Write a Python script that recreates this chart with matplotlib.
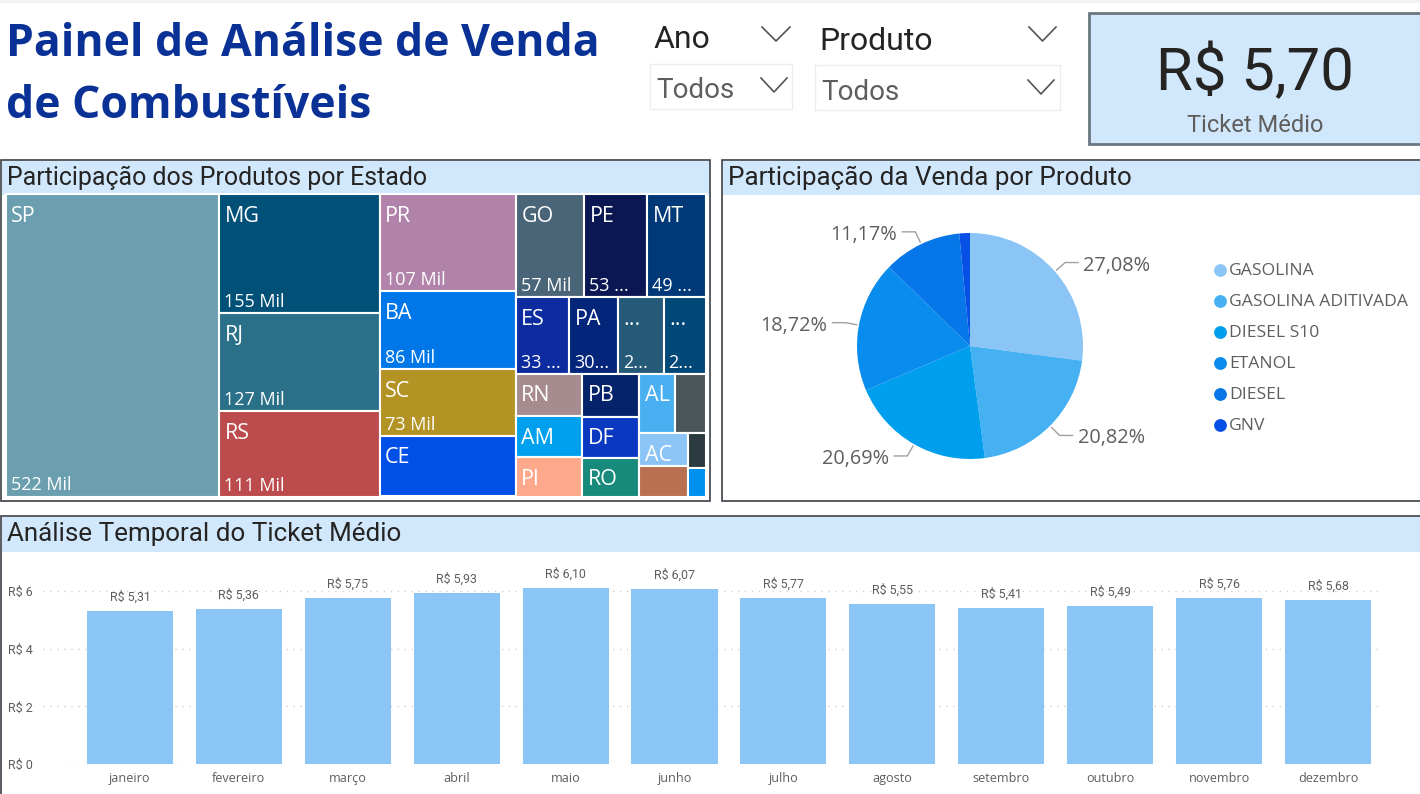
import math
import matplotlib
matplotlib.use("Agg")
import matplotlib.pyplot as plt
from matplotlib.patches import Rectangle

# dados
meses = ['janeiro', 'fevereiro', 'março', 'abril', 'maio', 'junho', 'julho',
         'agosto', 'setembro', 'outubro', 'novembro', 'dezembro']
ticket = [5.31, 5.36, 5.75, 5.93, 6.10, 6.07, 5.77, 5.55, 5.41, 5.49, 5.76, 5.68]

produtos = ['GASOLINA', 'GASOLINA ADITIVADA', 'DIESEL S10', 'ETANOL', 'DIESEL', 'GNV']
participacao = [27.08, 20.82, 20.69, 18.72, 11.17, 1.52]
cores_pie = ['#8AC5F6', '#45B0F2', '#009FEE', '#088CEE', '#0676E8', '#0650E6']

estados = ['SP', 'MG', 'RJ', 'RS', 'PR', 'BA', 'SC', 'CE', 'GO', 'PE', 'MT', 'ES', 'PA',
           '...', '...', 'RN', 'AM', 'PI', 'PB', 'DF', 'RO', 'AL', '', 'AC', '', '', '']
vendas = [522, 155, 127, 111, 107, 86, 73, 67, 57, 53, 49, 33, 30, 28, 26,
          23, 22, 21, 20, 19, 18, 17, 15, 13, 12, 5, 4]
rotulos = ['522 Mil', '155 Mil', '127 Mil', '111 Mil', '107 Mil', '86 Mil', '73 Mil', '',
           '57 Mil', '53 ...', '49 ...', '33 ...', '30...', '2...', '2...',
           '', '', '', '', '', '', '', '', '', '', '', '']
cores_tree = ['#6B9FB0', '#005078', '#2A7088', '#BC4B4D', '#B283AA', '#0077E8', '#B39324',
              '#0050E8', '#4A6478', '#0A1752', '#003878', '#0C2CA0', '#03267A', '#255A78',
              '#004878', '#A68C8E', '#00A0EE', '#FFA98C', '#04236A', '#0A38C0', '#178A7C',
              '#48B0F0', '#4C5558', '#8CC5F5', '#B87050', '#2B3A3E', '#0090EE']

# agrupamento do treemap (indices em vendas), alterna coluna/linha a cada nivel
grupos = [0, [1, 2, 3], [4, 5, 6, 7],
          [[8, 9, 10], [11, 12, 13, 14],
           [[15, 16, 17], [18, 19, 20], [[21, 22], [[23, 24], [25, 26]]]]]]

FONTE = 'Roboto'
AZUL_CLARO = '#D0E7FC'
plt.rcParams['font.family'] = ['Open Sans', 'DejaVu Sans']

fig = plt.figure(figsize=(14.2, 7.94), dpi=100, facecolor='white')

# eixo de fundo em pixels, para os paineis
bg = fig.add_axes([0, 0, 1, 1])
bg.set_xlim(0, 1420)
bg.set_ylim(794, 0)
bg.axis('off')


def eixo_px(x0, y0, x1, y1):
    return fig.add_axes([x0 / 1420, 1 - y1 / 794, (x1 - x0) / 1420, (y1 - y0) / 794])


def painel(x0, y0, x1, y1, titulo, y_header, tam):
    bg.add_patch(Rectangle((x0, y0), x1 - x0, y1 - y0, fc='white', ec='#3C4146', lw=1.2))
    bg.add_patch(Rectangle((x0 + 1, y0 + 1), x1 - x0 - 2, y_header - y0 - 1, fc=AZUL_CLARO, ec='none'))
    bg.text(x0 + 6.5, (y0 + y_header) / 2 + 0.5, titulo, fontsize=tam, family=FONTE, color='#252423',
            va='center', ha='left')


def chevron(x0, x1, y0, y1):
    bg.plot([x0, (x0 + x1) / 2, x1], [y0, y1, y0], color='#555555', lw=1.2)


bg.add_patch(Rectangle((0, 0), 1420, 3, fc='#F2F2F2', ec='none'))

# titulo principal
bg.text(6, 44, 'Painel de Análise de Venda', fontsize=32, fontweight='bold', color='#0A3296', va='center')
bg.text(6, 106, 'de Combustíveis', fontsize=32, fontweight='bold', color='#0A3296', va='center')

# filtros
bg.text(654, 40, 'Ano', fontsize=23, family=FONTE, color='#252423', va='center')
bg.text(819, 41, 'Produto', fontsize=23, family=FONTE, color='#252423', va='center')
chevron(762, 790, 27, 41)
chevron(1029, 1056, 27, 41)
bg.add_patch(Rectangle((650, 64), 142, 45, fc='white', ec='#EDEDED', lw=1))
bg.add_patch(Rectangle((815, 65), 245, 45, fc='white', ec='#EDEDED', lw=1))
bg.text(656, 91, 'Todos', fontsize=20, family=FONTE, color='#605E5C', va='center')
bg.text(821, 93, 'Todos', fontsize=20, family=FONTE, color='#605E5C', va='center')
chevron(761, 787, 78, 92)
chevron(1028, 1054, 80, 94)

# cartao
bg.add_patch(Rectangle((1088.5, 12.5), 340, 131, fc=AZUL_CLARO, ec='#6B7780', lw=2))
bg.text(1255, 73, 'R$ 5,70', fontsize=43, family=FONTE, color='#252423', ha='center', va='center')
bg.text(1255, 126, 'Ticket Médio', fontsize=17, family=FONTE, color='#605E5C', ha='center', va='center')

painel(0.5, 159.5, 709.5, 501, 'Participação dos Produtos por Estado', 195, 17.9)
painel(721.5, 159.5, 1425, 501, 'Participação da Venda por Produto', 195, 18.7)
painel(0.5, 515.5, 1425, 800, 'Análise Temporal do Ticket Médio', 552, 18.7)


# treemap
def soma(g):
    return vendas[g] if isinstance(g, int) else sum(soma(i) for i in g)


def desenha_tree(g, x, y, w, h, vertical):
    if isinstance(g, int):
        bg.add_patch(Rectangle((x, y), w, h, fc=cores_tree[g], ec='white', lw=1.5))
        bg.text(x + 5.5, y + 22, estados[g], fontsize=15.5, color='white', va='center')
        if rotulos[g]:
            bg.text(x + 5, y + h - 11, rotulos[g], fontsize=13, color='white', va='center')
        return
    total = soma(g)
    for item in g:
        frac = soma(item) / total
        if vertical:
            desenha_tree(item, x, y, w, h * frac, False)
            y += h * frac
        else:
            desenha_tree(item, x, y, w * frac, h, True)
            x += w * frac


desenha_tree(grupos, 5.8, 194, 700, 302.5, False)

# pizza
ax_pie = eixo_px(970 - 170, 346 - 170, 970 + 170, 346 + 170)
ax_pie.pie(participacao, colors=cores_pie, startangle=90, counterclock=False, radius=113 / 150,
           wedgeprops={'linewidth': 0})
ax_pie.set_xlim(-170 / 150, 170 / 150)
ax_pie.set_ylim(-170 / 150, 170 / 150)

acum = 0
for valor in participacao:
    meio = acum + valor / 2
    acum += valor
    if valor < 5:
        continue
    ang = math.radians(meio * 3.6)
    sx, sy = math.sin(ang), math.cos(ang)
    r = 113 / 150
    lado = 1 if sx > 0 else -1
    px = [sx * r * 1.02, sx * r * 1.12, sx * r * 1.12 + lado * 13 / 150]
    py = [sy * r * 1.02, sy * r * 1.12, sy * r * 1.12]
    ax_pie.plot(px, py, color='#A0A0A0', lw=1)
    ax_pie.text(px[2] + lado * 5 / 150, py[2] - 3 / 150, f'{valor:.2f}%'.replace('.', ','), fontsize=14.3,
                color='#605E5C', ha='left' if lado > 0 else 'right', va='center', clip_on=False)

# legenda
for i, (nome, cor) in enumerate(zip(produtos, cores_pie)):
    yy = 270 + i * 30.9
    bg.scatter([1220], [yy], s=85, color=cor, linewidths=0)
    bg.text(1229, yy + 1, nome, fontsize=12.6, color='#605E5C', va='center')

# barras
ax = eixo_px(43, 560, 1380, 764)
x = list(range(len(meses)))
ax.bar(x, ticket, width=0.79, color='#8AC5F6', zorder=2)
ax.set_xlim(-0.798, 11.477)
ax.set_ylim(0, 204 / 28.83)
ax.set_yticks([0, 2, 4, 6])
ax.set_yticklabels(['R$ 0', 'R$ 2', 'R$ 4', 'R$ 6'], fontsize=9, color='#605E5C', family=FONTE)
ax.set_xticks(x)
ax.set_xticklabels(meses, fontsize=9.1, color='#605E5C')
ax.tick_params(length=0)
ax.tick_params(axis='x', pad=6)
ax.tick_params(axis='y', pad=7.5)
ax.grid(axis='y', color='#D0D0D0', linestyle=(0, (1, 4)), lw=1, zorder=0)
ax.set_axisbelow(True)
ax.patch.set_alpha(0)
for lado in ax.spines.values():
    lado.set_visible(False)
for xi, v in zip(x, ticket):
    ax.text(xi, v + 0.25, f'R$ {v:.2f}'.replace('.', ','), ha='center', va='bottom', fontsize=8.9,
            color='#605E5C', family=FONTE)

fig.savefig('out.png', dpi=100)
